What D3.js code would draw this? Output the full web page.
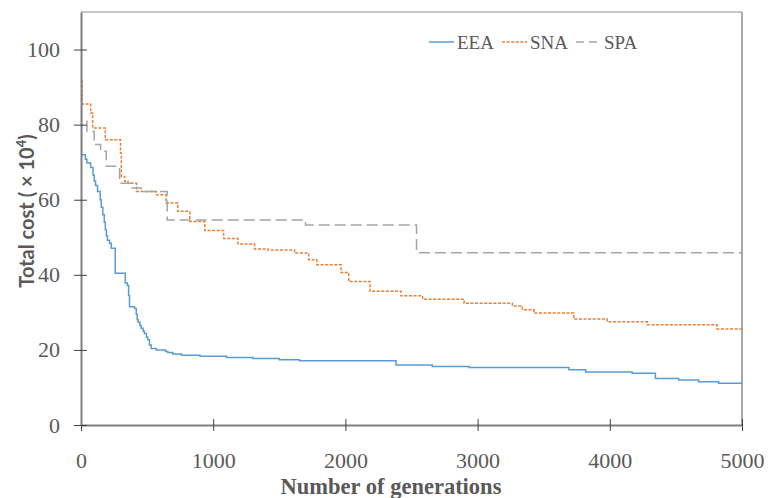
<!DOCTYPE html>
<html>
<head>
<meta charset="utf-8">
<script src="https://cdn.jsdelivr.net/npm/d3@7"></script>
<style>
  html, body { margin: 0; padding: 0; background: #fff; }
  svg { display: block; }
  .serif { font-family: "Liberation Serif", "Times New Roman", serif; }
</style>
</head>
<body>
<svg id="chart" width="768" height="498"></svg>
<script>
// ---- data (generation, total cost ×10^4) ----
const seriesNames = ["EEA", "SNA", "SPA"];
const eeaData = [
  [0, 89.0], [3, 72.0], [33, 70.8], [45, 69.8], [73, 68.6], [91, 66.5], [100, 65.0],
  [110, 63.8], [125, 62.2], [145, 60.0], [153, 58.0], [165, 56.0], [176, 54.0],
  [184, 52.0], [192, 50.4], [200, 49.2], [216, 48.4], [229, 47.1], [259, 40.4],
  [335, 37.8], [350, 37.2], [360, 34.5], [367, 31.5], [405, 31.0], [418, 29.5],
  [425, 28.0], [432, 27.4], [445, 26.5], [455, 25.8], [470, 25.0], [480, 24.4],
  [495, 23.4], [506, 22.7], [518, 21.3], [531, 20.4], [569, 20.0], [640, 19.6],
  [657, 19.3], [694, 18.9], [760, 18.6], [900, 18.3], [1100, 18.0], [1300, 17.7],
  [1500, 17.4], [1653, 17.1], [2383, 16.0], [2657, 15.6], [2936, 15.3], [3691, 14.7],
  [3817, 14.1], [4169, 13.8], [4345, 12.4], [4521, 12.0], [4672, 11.5], [4823, 11.1],
  [5000, 11.1]
];
const snaData = [
  [0, 110], [2, 92], [8, 85.5], [73, 83.1], [88, 79.1], [184, 76.0], [299, 72.4],
  [305, 66.2], [330, 64.9], [355, 64.4], [420, 62.2], [569, 61.3], [644, 59.1],
  [732, 56.9], [823, 54.2], [936, 51.8], [1079, 49.7], [1187, 48.2], [1313, 46.9],
  [1414, 46.6], [1615, 45.8], [1723, 44.0], [1784, 42.7], [1967, 40.6], [2025, 38.2],
  [2186, 35.6], [2420, 34.4], [2584, 33.5], [2898, 32.4], [3263, 31.7], [3338, 30.7],
  [3426, 29.8], [3728, 28.2], [3980, 27.5], [4282, 26.7], [4810, 25.6], [5000, 25.6]
];
const spaData = [
  [0, 88.0], [3, 80.9], [45, 78.2], [100, 74.7], [148, 72.9], [191, 68.9],
  [292, 64.4], [380, 63.1], [455, 62.2], [652, 54.6], [1698, 53.3], [2538, 45.9],
  [5000, 45.9]
];
const xTicks = [0, 1000, 2000, 3000, 4000, 5000];
const yTicks = [0, 20, 40, 60, 80, 100];
const xTitle = "Number of generations";
const yTitleMain = "Total cost ( × 10";
const yTitleSup = "4";
const yTitleEnd = ")";

// ---- layout ----
const svg = d3.select("#chart");
const L = 81, R = 742, T = 12, B = 425;
const x = d3.scaleLinear().domain([0, 5000]).range([L, R]);
const y = d3.scaleLinear().domain([0, 110]).range([B, T]);
const gray = "#595959";
const serif = "'Liberation Serif', 'Times New Roman', serif";

const series = [
  { name: seriesNames[0], data: eeaData, color: "#5b9bd5", dash: null },
  { name: seriesNames[1], data: snaData, color: "#ed7d31", dash: "3,1.6" },
  { name: seriesNames[2], data: spaData, color: "#a5a5a5", dash: "11,5" }
];

// frame top & right
svg.append("line").attr("x1", L).attr("x2", R).attr("y1", T).attr("y2", T)
  .attr("stroke", "#8c8c8c").attr("stroke-width", 1.2);
svg.append("line").attr("x1", R).attr("x2", R).attr("y1", T).attr("y2", B)
  .attr("stroke", "#8c8c8c").attr("stroke-width", 1.5);

// series
const line = d3.line().x(d => x(d[0])).y(d => y(d[1])).curve(d3.curveStepAfter);
svg.append("defs").append("clipPath").attr("id", "clip")
  .append("rect").attr("x", L).attr("y", T).attr("width", R - L).attr("height", B - T);
const plot = svg.append("g").attr("clip-path", "url(#clip)");
series.forEach(s => {
  plot.append("path").datum(s.data)
    .attr("d", line)
    .attr("fill", "none")
    .attr("stroke", s.color)
    .attr("stroke-width", 1.5)
    .attr("stroke-dasharray", s.dash);
});

// axes
const xAxis = svg.append("g").attr("transform", `translate(0,${B})`)
  .call(d3.axisBottom(x).tickValues(xTicks).tickFormat(d3.format("d"))
    .tickSizeInner(6).tickSizeOuter(0).tickPadding(21));
xAxis.attr("font-family", null).attr("font-size", null);
xAxis.select(".domain").attr("stroke", "#7f7f7f").attr("stroke-width", 1.8);
xAxis.selectAll(".tick line").attr("y1", -6).attr("y2", 6).attr("stroke", "#404040");
xAxis.selectAll(".tick text")
  .style("font-family", serif).style("font-size", "22px").attr("fill", gray);

const yAxis = svg.append("g").attr("transform", `translate(${L},0)`)
  .call(d3.axisLeft(y).tickValues(yTicks).tickFormat(d3.format("d"))
    .tickSizeInner(7).tickSizeOuter(0).tickPadding(14));
yAxis.attr("font-family", null).attr("font-size", null);
yAxis.select(".domain").attr("stroke", "#7f7f7f").attr("stroke-width", 2);
yAxis.selectAll(".tick line").attr("x1", -7).attr("x2", 6).attr("stroke", "#404040");
yAxis.selectAll(".tick text")
  .style("font-family", serif).style("font-size", "22px").attr("fill", gray);

// axis titles
svg.append("text")
  .attr("x", 391).attr("y", 494)
  .attr("text-anchor", "middle")
  .style("font-family", serif)
  .style("font-weight", "bold").style("font-size", "22.5px").attr("fill", gray)
  .text(xTitle);

const yt = svg.append("text")
  .attr("transform", "translate(34,211) rotate(-90)")
  .attr("text-anchor", "middle")
  .style("font-family", "Lato, 'Liberation Sans', sans-serif")
  .style("font-weight", "bold").style("font-size", "20px").attr("fill", gray);
yt.append("tspan").text(yTitleMain);
yt.append("tspan").style("font-size", "13px").attr("dy", -8).text(yTitleSup);
yt.append("tspan").attr("dy", 8).text(yTitleEnd);

// legend
const legendPos = [
  { lx: 429, tx: 457 },
  { lx: 502, tx: 530 },
  { lx: 576, tx: 604 }
];
const lg = svg.append("g");
series.forEach((s, i) => {
  const p = legendPos[i];
  lg.append("line")
    .attr("x1", p.lx).attr("x2", p.lx + 25).attr("y1", 42).attr("y2", 42)
    .attr("stroke", s.color).attr("stroke-width", 1.5)
    .attr("stroke-dasharray", i === 2 ? "8,5" : s.dash);
  lg.append("text")
    .attr("x", p.tx).attr("y", 48.5)
    .style("font-family", serif)
    .style("font-size", "19px").attr("fill", gray)
    .text(s.name);
});
</script>
</body>
</html>
